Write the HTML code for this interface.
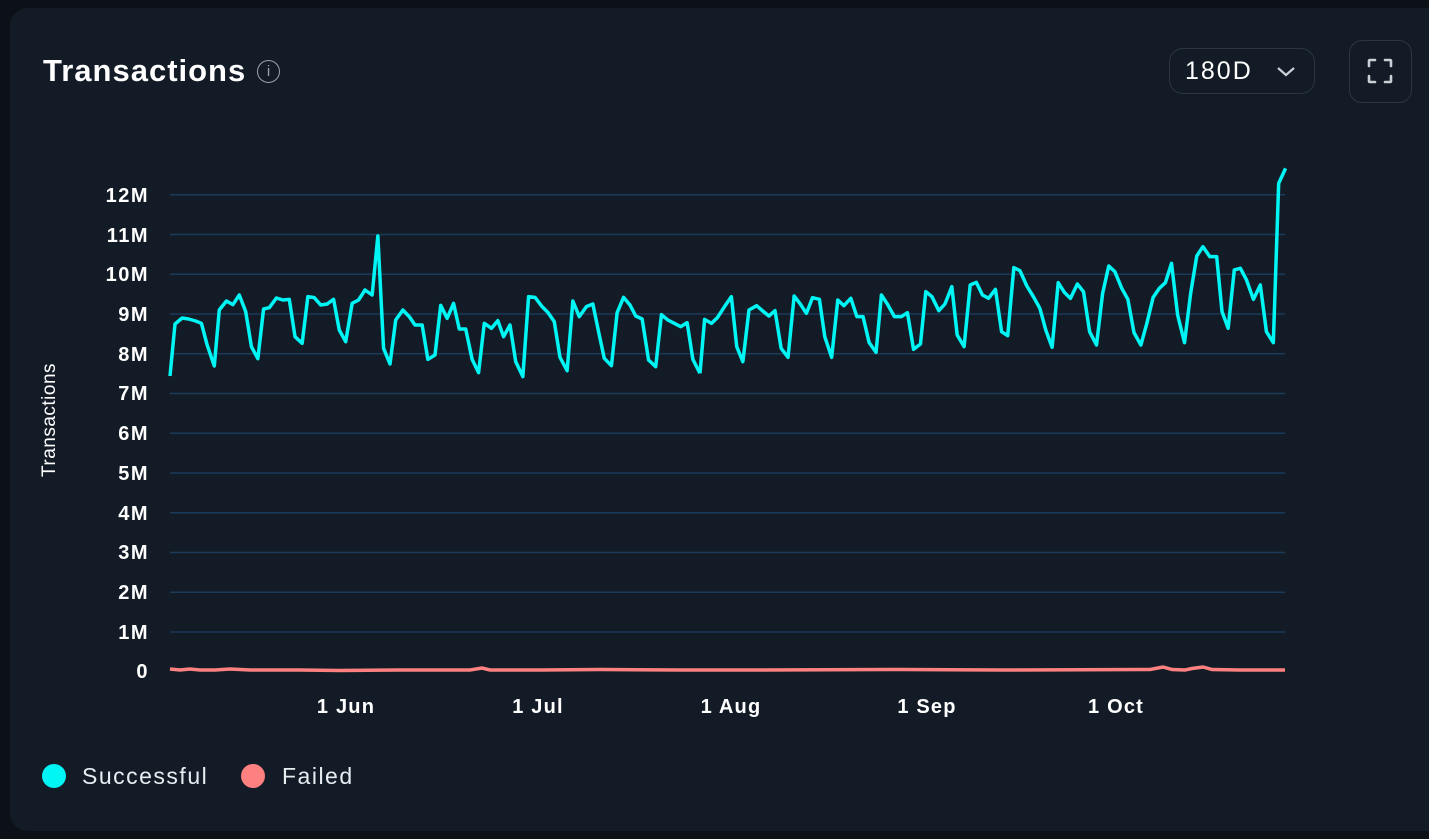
<!DOCTYPE html>
<html><head><meta charset="utf-8"><style>
html,body{margin:0;padding:0;width:1429px;height:839px;background:#0c1117;overflow:hidden;font-family:"Liberation Sans",sans-serif}
.card{position:absolute;left:10px;top:8px;width:1440px;height:823px;background:#131c26;border-radius:18px}
.title{position:absolute;left:43px;top:53px;color:#fff;font-size:31px;font-weight:bold;letter-spacing:1px}
.info{position:absolute;left:257px;top:60px;width:21px;height:21px;border:1.5px solid #9aa3ad;border-radius:50%;color:#9aa3ad;font-size:15px;text-align:center;line-height:22px}
.sel{position:absolute;left:1169px;top:48px;width:146px;height:46px;border:1.5px solid #2d3640;border-radius:14px;box-sizing:border-box}
.sel span{position:absolute;left:15px;top:8px;color:#fff;font-size:25px;letter-spacing:2px}
.fs{position:absolute;left:1349px;top:40px;width:63px;height:63px;border:1.5px solid #2d3640;border-radius:13px;box-sizing:border-box}
.leg{position:absolute;top:763px;font-size:23px;color:#e8edf2;letter-spacing:1.5px}
.dot{position:absolute;top:764px;width:24px;height:24px;border-radius:50%}
</style></head><body>
<div class="card"></div>
<div class="title">Transactions</div>
<div class="info">i</div>
<div class="sel"><span>180D</span>
<svg style="position:absolute;left:106px;top:17px" width="20" height="12"><polyline points="2,2 10,9 18,2" fill="none" stroke="#c9d0d6" stroke-width="2.2"/></svg></div>
<div class="fs"><svg width="60" height="60" viewBox="0 0 60 60" style="position:absolute;left:0;top:0"><g fill="none" stroke="#c9d0d6" stroke-width="2.6" stroke-linecap="round">
<path d="M19,25 V20 Q19,19 20,19 H25"/><path d="M35,19 H40 Q41,19 41,20 V25"/><path d="M41,35 V40 Q41,41 40,41 H35"/><path d="M25,41 H20 Q19,41 19,40 V35"/></g></svg></div>
<svg style="position:absolute;left:0;top:0" width="1429" height="839">
<g stroke="#1b3a5a" stroke-width="1.5">
<line x1="170" x2="1285" y1="194.7" y2="194.7"/><line x1="170" x2="1285" y1="234.5" y2="234.5"/><line x1="170" x2="1285" y1="274.2" y2="274.2"/><line x1="170" x2="1285" y1="314" y2="314"/><line x1="170" x2="1285" y1="353.7" y2="353.7"/><line x1="170" x2="1285" y1="393.5" y2="393.5"/><line x1="170" x2="1285" y1="433.2" y2="433.2"/><line x1="170" x2="1285" y1="473" y2="473"/><line x1="170" x2="1285" y1="512.7" y2="512.7"/><line x1="170" x2="1285" y1="552.5" y2="552.5"/><line x1="170" x2="1285" y1="592.2" y2="592.2"/><line x1="170" x2="1285" y1="632" y2="632"/>
</g>
<g fill="#fff" font-size="20" font-weight="bold" text-anchor="end" letter-spacing="1.5">
<text x="149" y="202">12M</text><text x="149" y="242">11M</text><text x="149" y="281">10M</text><text x="149" y="321">9M</text><text x="149" y="361">8M</text><text x="149" y="400">7M</text><text x="149" y="440">6M</text><text x="149" y="480">5M</text><text x="149" y="520">4M</text><text x="149" y="559">3M</text><text x="149" y="599">2M</text><text x="149" y="639">1M</text><text x="149" y="678">0</text>
</g>
<g fill="#fff" font-size="20" font-weight="bold" text-anchor="middle" letter-spacing="1.2">
<text x="346" y="713">1 Jun</text><text x="538" y="713">1 Jul</text><text x="731" y="713">1 Aug</text><text x="927" y="713">1 Sep</text><text x="1116" y="713">1 Oct</text>
</g>
<text transform="translate(55,420) rotate(-90)" fill="#fff" font-size="19" text-anchor="middle" letter-spacing="0.5">Transactions</text>
<polyline fill="none" stroke="#ff8080" stroke-width="3.5" points="170,669 180,670 190,669 200,670 215,670 230,669 250,670 300,670 340,670.5 400,670 470,670 482,668 490,670 540,670 600,669.5 680,670 760,670 900,669.5 1000,670 1150,669.5 1163,667 1172,669.5 1185,670 1192,668.5 1203,667 1212,669.5 1240,670 1285,670"/>
<g transform="translate(160,160) scale(0.35714,0.33333)">
<polyline fill="none" stroke="#00f5f5" stroke-width="3.5" vector-effect="non-scaling-stroke" stroke-linejoin="round" points="28,648 42,492 62,474 80,477 100,483 116,490 132,555 152,618 166,450 186,423 204,434 222,405 240,455 256,560 274,596 290,447 306,443 326,414 344,420 362,418 378,530 398,550 414,410 432,413 450,435 468,432 486,418 502,510 520,545 538,430 556,420 574,390 594,405 610,228 626,565 644,612 660,480 680,450 698,470 714,495 734,495 750,598 770,585 786,436 804,475 822,430 838,507 856,507 874,598 892,638 908,490 928,505 946,482 962,530 980,495 996,605 1016,650 1032,410 1050,412 1070,440 1086,457 1104,485 1120,592 1140,632 1156,423 1174,470 1194,440 1212,432 1228,515 1244,595 1264,617 1280,458 1298,412 1316,435 1332,468 1350,477 1368,600 1388,620 1404,464 1422,480 1440,490 1458,500 1476,488 1492,598 1510,636 1512.2,639"/>
</g>
<g transform="translate(700,160) scale(0.38272,0.33333)">
<polyline fill="none" stroke="#00f5f5" stroke-width="3.5" vector-effect="non-scaling-stroke" stroke-linejoin="round" points="0,640 12,478 30,490 46,472 64,440 82,410 96,560 112,605 128,450 148,437 166,455 180,468 196,452 212,565 230,592 246,408 262,432 278,460 294,413 312,418 326,530 344,592 360,420 376,437 394,415 410,470 426,470 442,548 460,577 474,405 490,433 508,470 526,470 542,458 558,568 576,552 590,395 606,410 624,452 640,432 658,380 672,525 690,560 706,375 722,367 738,405 754,415 772,388 788,515 804,527 820,323 836,332 854,378 872,412 888,445 904,512 920,562 936,368 952,397 968,415 986,372 1002,395 1018,515 1036,555 1052,400 1068,318 1084,335 1102,385 1118,418 1134,518 1152,555 1168,488 1184,412 1200,385 1216,368 1232,310 1248,465 1266,548 1282,400 1298,288 1314,260 1332,290 1350,290 1364,455 1380,505 1396,330 1412,325 1428,360 1446,418 1464,375 1480,515 1498,548 1512,70 1530,25"/>
</g>
</svg>
<div class="dot" style="left:42px;background:#00f5f5"></div><div class="leg" style="left:82px">Successful</div>
<div class="dot" style="left:241px;background:#ff8080"></div><div class="leg" style="left:282px">Failed</div>
</body></html>
